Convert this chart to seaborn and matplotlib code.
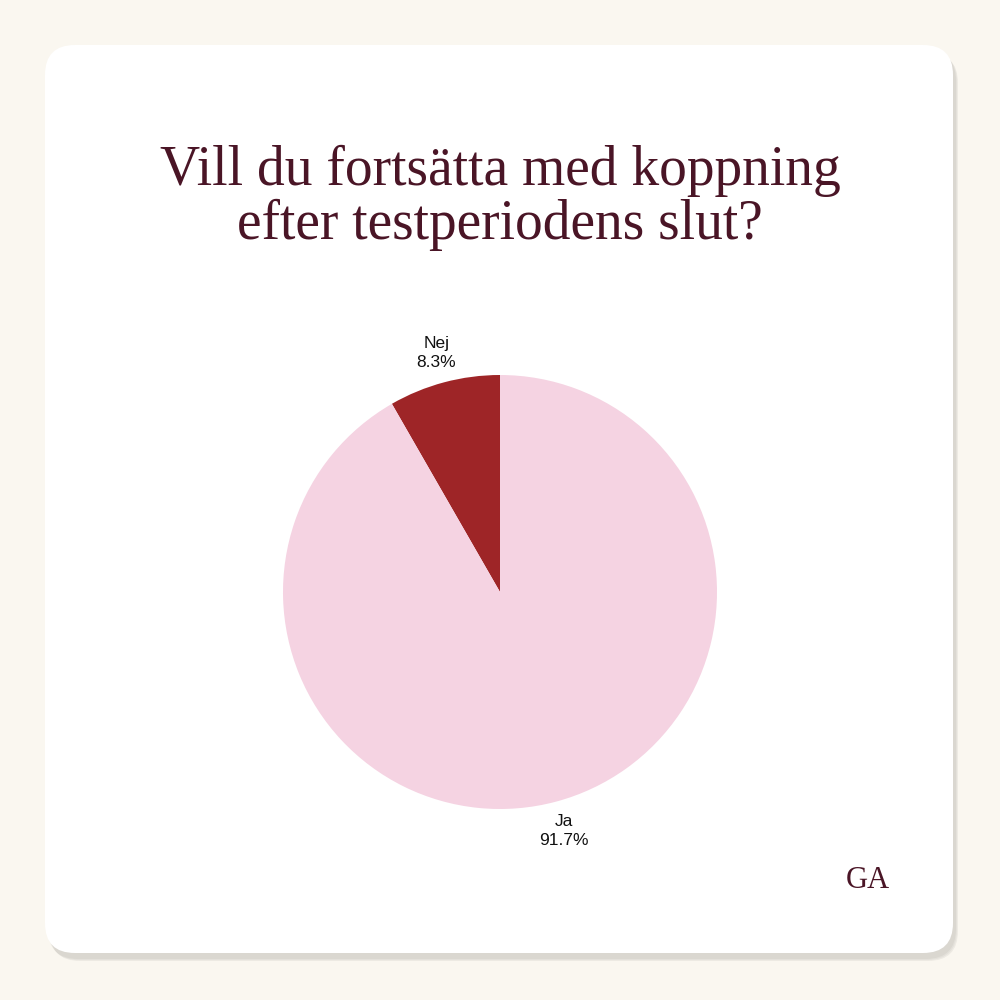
import matplotlib.pyplot as plt
import seaborn as sns
from matplotlib.patches import FancyBboxPatch

sns.set_theme(style="white")
plt.rcParams['font.family'] = ['DejaVu Sans']

categories = ["Nej", "Ja"]
shares = [8.3, 91.7]
colors = ["#9e2527", "#f5d3e2"]
title = "Vill du fortsätta med koppning\nefter testperiodens slut?"

fig = plt.figure(figsize=(10, 10), dpi=100)
fig.patch.set_facecolor("#faf7f0")

# card with soft shadow
bg = fig.add_axes([0, 0, 1, 1])
bg.set_xlim(0, 1000)
bg.set_ylim(1000, 0)
bg.axis("off")
for i, a in enumerate([0.04, 0.04, 0.05]):
    bg.add_patch(FancyBboxPatch((45 + 3 + i, 45 + 6 + i), 908, 908,
                                boxstyle="round,pad=0,rounding_size=30",
                                fc="#000000", ec="none", alpha=a))
bg.add_patch(FancyBboxPatch((45, 45), 908, 908,
                            boxstyle="round,pad=0,rounding_size=30",
                            fc="white", ec="none"))
bg.text(500, 198, title, ha="center", va="center", fontsize=40,
        family="Liberation Serif", color="#4a1526", linespacing=1.05)
bg.text(868, 880, "GA", ha="center", va="center", fontsize=22,
        family="Liberation Serif", color="#4a1526")

ax = fig.add_axes([0.283, 0.191, 0.434, 0.434])
wedges, texts = ax.pie(shares, colors=colors, startangle=90, counterclock=True,
                       labels=[f"{c}\n{s:.1f}%" for c, s in zip(categories, shares)],
                       labeldistance=1.14, wedgeprops=dict(linewidth=0),
                       textprops=dict(fontsize=12.5, color="#111111",
                                      family="Liberation Sans", linespacing=1.35))
for t in texts:
    t.set_horizontalalignment("center")
    t.set_verticalalignment("center")
ax.set_xlim(-1, 1)
ax.set_ylim(-1, 1)
ax.set_aspect("equal")

fig.savefig("out.png", dpi=100, facecolor=fig.get_facecolor())
